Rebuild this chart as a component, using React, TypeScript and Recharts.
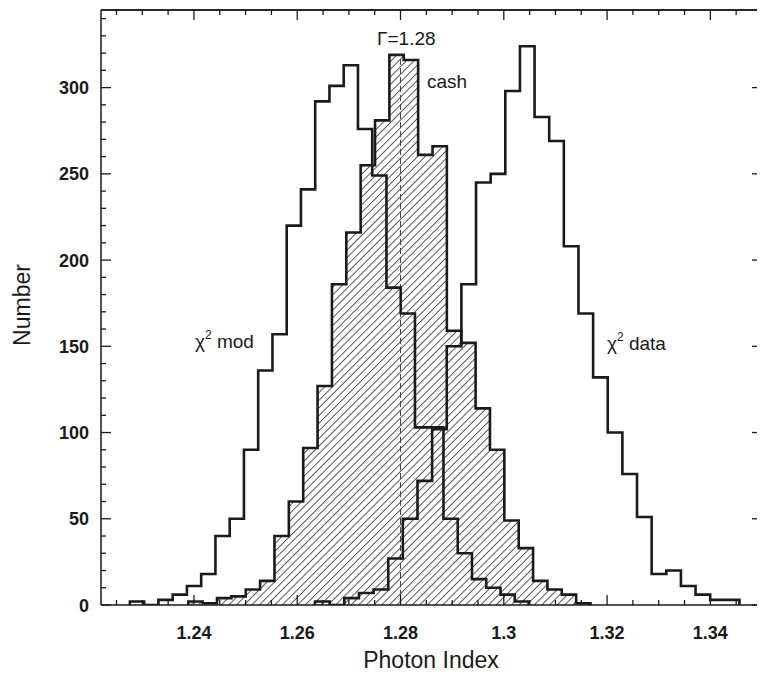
import React from 'react';
import { ComposedChart, Line, Area, XAxis, YAxis, ReferenceLine } from 'recharts';

// Гистограммы фотонного индекса: начало первого бина, ширина бина и отсчёты
const MOD_START = 1.2276;
const MOD_BIN = 0.00276;
const MOD_COUNTS = [2, 0, 3, 6, 11, 18, 40, 50, 90, 136, 157, 220, 241, 292, 301, 313, 276, 249, 184, 169, 103, 103, 50, 30, 15, 10, 6, 2];

const CASH_START = 1.2389;
const CASH_BIN = 0.002782;
const CASH_COUNTS = [2, 1, 4, 5, 9, 14, 40, 60, 91, 127, 186, 216, 255, 281, 319, 316, 261, 266, 159, 152, 114, 90, 49, 33, 14, 9, 6, 1];

const DATA_START = 1.26345;
const DATA_BIN = 0.002834;
const DATA_COUNTS = [2, 0, 4, 7, 9, 27, 50, 72, 102, 150, 186, 245, 250, 298, 324, 283, 269, 208, 169, 132, 100, 76, 51, 18, 20, 11, 6, 3, 3];

const GAMMA = 1.28;

const X_DOMAIN = [1.222, 1.35];
const Y_DOMAIN = [0, 345];
const X_MAJOR = [1.24, 1.26, 1.28, 1.3, 1.32, 1.34];
const Y_MAJOR = [0, 50, 100, 150, 200, 250, 300];

// мелкие деления: 0.005 по X и 10 по Y
const X_TICKS = Array.from({ length: 26 }, (_, i) => (1225 + 5 * i) / 1000);
const Y_TICKS = Array.from({ length: 35 }, (_, i) => i * 10);

const FONT = '"Liberation Sans", Arial, Helvetica, sans-serif';
const INK = '#1a1a1a';

// точки для ступенчатой линии (stepAfter): подъём с нуля, бины, спуск в ноль
const toSteps = (start: number, bin: number, counts: number[]) => {
  const pts = [{ x: start, y: 0 }];
  counts.forEach((c, i) => pts.push({ x: start + i * bin, y: c }));
  pts.push({ x: start + counts.length * bin, y: 0 });
  return pts;
};

const modSteps = toSteps(MOD_START, MOD_BIN, MOD_COUNTS);
const cashSteps = toSteps(CASH_START, CASH_BIN, CASH_COUNTS);
const dataSteps = toSteps(DATA_START, DATA_BIN, DATA_COUNTS);

const isMajorX = (v: number) => X_MAJOR.some(m => Math.abs(m - v) < 1e-6);
const isMajorY = (v: number) => Y_MAJOR.includes(v);

const BottomTick = ({ x, y, payload }: any) => {
  const major = isMajorX(payload.value);
  return (
    <g>
      <line x1={x} y1={y} x2={x} y2={y - (major ? 10 : 5)} stroke={INK} strokeWidth={1.3} />
      {major && (
        <text x={x} y={y + 34} textAnchor="middle" fontSize={18} fontWeight="bold" fontFamily={FONT} fill={INK}>
          {String(Number(payload.value.toFixed(2)))}
        </text>
      )}
    </g>
  );
};

const TopTick = ({ x, y, payload }: any) => {
  const major = isMajorX(payload.value);
  return <line x1={x} y1={y} x2={x} y2={y + (major ? 10 : 5)} stroke={INK} strokeWidth={1.3} />;
};

const LeftTick = ({ x, y, payload }: any) => {
  const major = isMajorY(payload.value);
  return (
    <g>
      <line x1={x} y1={y} x2={x + (major ? 10 : 5)} y2={y} stroke={INK} strokeWidth={1.3} />
      {major && (
        <text x={x - 12} y={y + 6.5} textAnchor="end" fontSize={18} fontWeight="bold" fontFamily={FONT} fill={INK}>
          {payload.value}
        </text>
      )}
    </g>
  );
};

const RightTick = ({ x, y, payload }: any) => {
  const major = isMajorY(payload.value);
  return <line x1={x} y1={y} x2={x - (major ? 10 : 5)} y2={y} stroke={INK} strokeWidth={1.3} />;
};

const axisLine = { stroke: INK, strokeWidth: 1.5 };

const App: React.FC = () => {
  return (
    // отрицательный нижний отступ гасит margin body, чтобы не появлялась полоса прокрутки
    <div style={{ position: 'relative', width: 757, height: 669, marginBottom: -8 }}>
      <ComposedChart width={757} height={669} margin={{ top: 0, right: 2, bottom: 0, left: 0 }}>
        <defs>
          <pattern id="hatch" patternUnits="userSpaceOnUse" width={5.4} height={5.4} patternTransform="rotate(45)">
            <rect width={5.4} height={5.4} fill="#fff" />
            <line x1={0} y1={0} x2={0} y2={5.4} stroke="#333" strokeWidth={1.6} />
          </pattern>
        </defs>
        <XAxis
          dataKey="x"
          type="number"
          domain={X_DOMAIN}
          allowDataOverflow
          ticks={X_TICKS}
          interval={0}
          height={72}
          tickSize={0}
          tickMargin={0}
          tickLine={false}
          axisLine={axisLine}
          tick={<BottomTick />}
        />
        <XAxis
          xAxisId="top"
          orientation="top"
          dataKey="x"
          type="number"
          domain={X_DOMAIN}
          allowDataOverflow
          ticks={X_TICKS}
          interval={0}
          height={2}
          tickSize={0}
          tickMargin={0}
          tickLine={false}
          axisLine={axisLine}
          tick={<TopTick />}
        />
        <YAxis
          type="number"
          domain={Y_DOMAIN}
          allowDataOverflow
          ticks={Y_TICKS}
          interval={0}
          width={93}
          tickSize={0}
          tickMargin={0}
          tickLine={false}
          axisLine={axisLine}
          tick={<LeftTick />}
        />
        <YAxis
          yAxisId="right"
          orientation="right"
          type="number"
          domain={Y_DOMAIN}
          allowDataOverflow
          ticks={Y_TICKS}
          interval={0}
          width={1}
          tickSize={0}
          tickMargin={0}
          tickLine={false}
          axisLine={axisLine}
          tick={<RightTick />}
        />
        {/* рамка сверху и справа */}
        <ReferenceLine y={Y_DOMAIN[1]} stroke={INK} strokeWidth={1.5} ifOverflow="visible" />
        <ReferenceLine x={X_DOMAIN[1]} stroke={INK} strokeWidth={1.5} ifOverflow="visible" />
        <Area
          data={cashSteps}
          dataKey="y"
          type="stepAfter"
          fill="url(#hatch)"
          fillOpacity={1}
          stroke={INK}
          strokeWidth={2.6}
          isAnimationActive={false}
          dot={false}
          activeDot={false}
        />
        <ReferenceLine
          segment={[{ x: GAMMA, y: 0 }, { x: GAMMA, y: Math.max(...CASH_COUNTS) }]}
          stroke="#444"
          strokeWidth={1}
          strokeDasharray="6 3"
        />
        <Line
          data={modSteps}
          dataKey="y"
          type="stepAfter"
          stroke={INK}
          strokeWidth={2.6}
          dot={false}
          activeDot={false}
          isAnimationActive={false}
        />
        <Line
          data={dataSteps}
          dataKey="y"
          type="stepAfter"
          stroke={INK}
          strokeWidth={2.6}
          dot={false}
          activeDot={false}
          isAnimationActive={false}
        />
        {/* та же серия, невидимая: нужна только чтобы верхняя ось X и правая ось Y получили данные */}
        <Line
          xAxisId="top"
          yAxisId="right"
          data={modSteps}
          dataKey="y"
          type="stepAfter"
          stroke="none"
          dot={false}
          activeDot={false}
          legendType="none"
          isAnimationActive={false}
        />
      </ComposedChart>
      <svg
        width={757}
        height={669}
        style={{ position: 'absolute', left: 0, top: 0, pointerEvents: 'none' }}
        fontFamily={FONT}
        fill={INK}
      >
        <text x={369} y={37} fontSize={19}>Γ=1.28</text>
        <text x={419} y={80} fontSize={19}>cash</text>
        <text x={187} y={340} fontSize={19}>
          χ<tspan fontSize={12} dy={-9}>2</tspan>
          <tspan dy={9}> mod</tspan>
        </text>
        <text x={599} y={342} fontSize={19}>
          χ<tspan fontSize={12} dy={-9}>2</tspan>
          <tspan dy={9}> data</tspan>
        </text>
        <text x={423} y={660} fontSize={23} textAnchor="middle">Photon Index</text>
        <text x={22} y={297} fontSize={23} textAnchor="middle" transform="rotate(-90 22 297)">Number</text>
      </svg>
    </div>
  );
};

export default App;
